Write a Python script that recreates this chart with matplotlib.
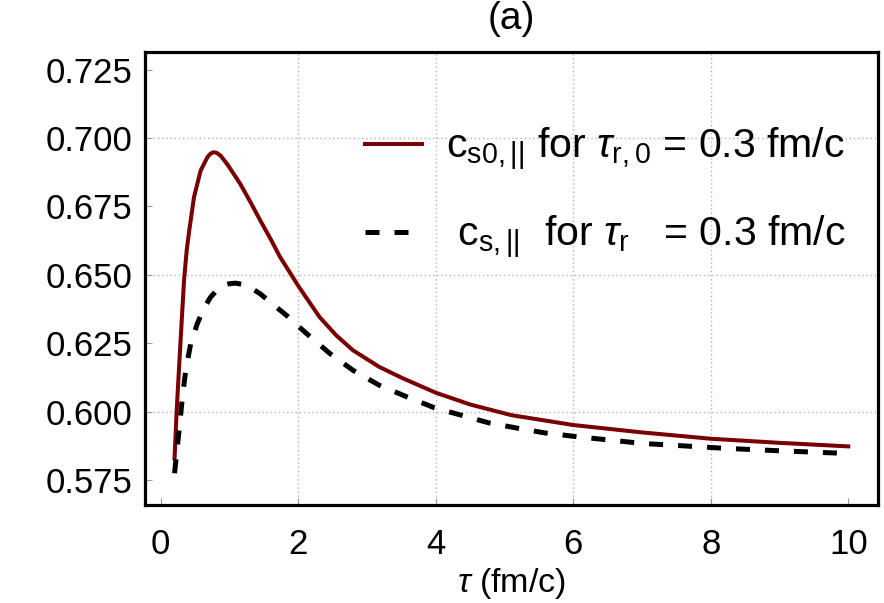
import matplotlib
matplotlib.use("Agg")
import matplotlib.pyplot as plt

plt.rcParams['font.family'] = ['Liberation Sans', 'DejaVu Sans']
plt.rcParams['mathtext.fontset'] = 'custom'
plt.rcParams['mathtext.rm'] = 'Liberation Sans'
plt.rcParams['mathtext.it'] = 'Liberation Sans:italic'
plt.rcParams['mathtext.bf'] = 'Liberation Sans:bold'

# Data
tau_red = [0.20, 0.23, 0.29, 0.338, 0.377, 0.41, 0.483, 0.58, 0.676, 0.72, 0.763,
           0.81, 0.868, 0.965, 1.06, 1.157, 1.30, 1.447, 1.60, 1.736, 1.87, 2.01,
           2.31, 2.55, 2.795, 3.18, 3.50, 4.00, 4.50, 5.10, 6.00, 7.00, 8.00,
           9.00, 10.00]
cs0_par = [0.583, 0.600, 0.627, 0.648, 0.659, 0.6655, 0.6784, 0.6881, 0.6929,
           0.6942, 0.6948, 0.6946, 0.6936, 0.6905, 0.6869, 0.6832, 0.6768, 0.6699,
           0.6630, 0.6565, 0.6512, 0.6456, 0.6346, 0.6280, 0.6225, 0.6164, 0.6125,
           0.607, 0.6027, 0.5988, 0.5952, 0.5925, 0.5902, 0.5887, 0.5874]

tau_blk = [0.20, 0.266, 0.315, 0.363, 0.435, 0.531, 0.62, 0.724, 0.82, 0.916,
           1.00, 1.09, 1.254, 1.447, 1.63, 1.83, 2.12, 2.46, 2.795, 3.18, 3.54,
           3.98, 4.34, 4.77, 5.20, 5.59, 6.07, 7.00, 8.20, 9.00, 10.00]
cs_par = [0.5776, 0.5933, 0.6055, 0.6152, 0.6249, 0.6322, 0.6375, 0.6419,
          0.6445, 0.6462, 0.6468, 0.6470, 0.6462, 0.6431, 0.6393, 0.6352, 0.6286,
          0.6213, 0.6152, 0.6097, 0.6059, 0.6015, 0.5990, 0.5960, 0.5940, 0.5923,
          0.5909, 0.5885, 0.5867, 0.5858, 0.5848]

xticks = [0, 2, 4, 6, 8, 10]
yticks = [0.575, 0.600, 0.625, 0.650, 0.675, 0.700, 0.725]
ytick_labels = ['0.575', '0.600', '0.625', '0.650', '0.675', '0.700', '0.725']
xgrid = [2, 4, 6, 8]
ygrid = [0.600, 0.650, 0.700]

label_red = r'c$_{\mathrm{s0,||}}$ for $\tau_{\mathrm{r,0}}$ = 0.3 fm/c'
label_blk = r' c$_{\mathrm{s,||}}$  for $\tau_{\mathrm{r}}$   = 0.3 fm/c'

fig = plt.figure(figsize=(8.84, 6.03), dpi=100)
ax = fig.add_axes([0.164, 0.1625, 0.829, 0.7513])

for g in xgrid:
    ax.axvline(g, color='#b4b4b4', lw=1.0, ls=(0, (1, 2)), zorder=0)
for g in ygrid:
    ax.axhline(g, color='#b4b4b4', lw=1.0, ls=(0, (1, 2)), zorder=0)

l1, = ax.plot(tau_red, cs0_par, color='#7a0000', lw=2.9, label=label_red,
              solid_joinstyle='round')
l2, = ax.plot(tau_blk, cs_par, color='black', lw=3.6, dashes=(2.8, 3.0),
              label=label_blk)

ax.set_xlim(-0.23, 10.43)
ax.set_ylim(0.566, 0.7314)
ax.set_xticks(xticks)
ax.set_yticks(yticks)
ax.set_yticklabels(ytick_labels)
ax.tick_params(axis='both', direction='in', length=5, width=0.8, color='#999999',
               labelsize=25, labelcolor='black')
ax.tick_params(axis='y', pad=9)
ax.tick_params(axis='x', pad=16.5)
for s in ax.spines.values():
    s.set_linewidth(2.3)
    s.set_color('black')

ax.set_xlabel(r'$\tau$ (fm/c)', fontsize=24.5, labelpad=4)
ax.set_title('(a)', fontsize=28, pad=16.5)

ax.legend(handles=[l1, l2], loc='upper left', bbox_to_anchor=(0.30, 0.837),
          frameon=False, fontsize=29.5, borderaxespad=0, borderpad=0,
          handlelength=1.39, handletextpad=0.6, labelspacing=1.0)

fig.savefig('out.png', dpi=100)
